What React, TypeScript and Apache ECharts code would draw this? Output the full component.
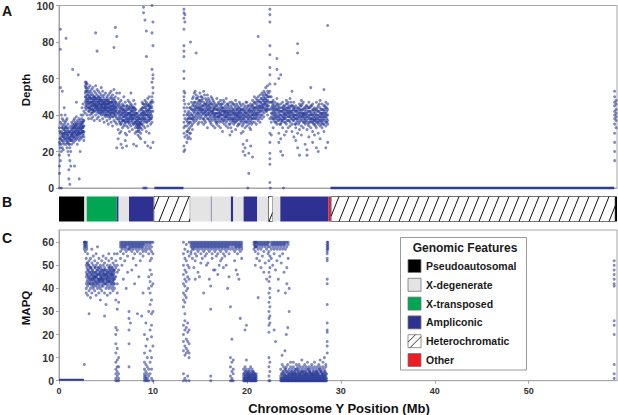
import React, { useEffect, useRef } from "react";
import * as echarts from "echarts";

const X_MAX = 59.4;
const xTicks = [0, 10, 20, 30, 40, 50];
const depthTicks = [0, 20, 40, 60, 80, 100];
const mapqTicks = [0, 10, 20, 30, 40, 50, 60];

const featureNames = ["Pseudoautosomal", "X-degenerate", "X-transposed", "Ampliconic", "Heterochromatic", "Other"];
const featureColors = ["#000000", "#e4e4e4", "#00a651", "#2e3192", "hatch", "#ed1c24"];

// [start Mb, end Mb, feature index]
const featureSegments = [
  [0, 2.7, 0], [2.7, 2.95, 1], [2.95, 6.15, 2], [6.15, 6.35, 3], [6.35, 7.45, 1],
  [7.45, 10.1, 3], [10.1, 13.97, 4], [13.97, 16.17, 1], [16.17, 16.25, 3], [16.25, 18.3, 1],
  [18.3, 18.55, 3], [18.55, 19.65, 1], [19.65, 21.1, 3], [21.1, 22.3, 1], [22.3, 22.75, 4],
  [22.75, 23.56, 1], [23.56, 28.7, 3], [28.7, 28.97, 5], [28.97, 59.2, 4], [59.2, 59.4, 0],
];

// Depth columns: [position Mb, depth values...]
const depthPar = [
  [0.05, 18, 12, 25, 33, 0, 8], [0.15, 22, 30, 36, 27, 15, 55, 87, 76], [0.25, 28, 35, 24, 31, 40, 0, 20],
  [0.35, 30, 26, 38, 33, 22, 53], [0.45, 25, 34, 29, 37, 21, 28], [0.55, 32, 27, 35, 24, 30, 44],
  [0.65, 29, 36, 31, 26, 33, 40], [0.75, 34, 28, 24, 37, 31, 82], [0.85, 27, 33, 30, 38, 25, 22],
  [0.95, 31, 25, 29, 35, 20, 28], [1.05, 24, 30, 18, 10, 5, 27, 33], [1.15, 28, 22, 15, 31, 2, 26],
  [1.25, 30, 26, 34, 20, 28, 12], [1.35, 33, 27, 31, 36, 24, 29], [1.45, 29, 35, 26, 32, 30, 65],
  [1.55, 31, 37, 28, 34, 25, 33], [1.65, 27, 33, 38, 30, 35, 12], [1.75, 32, 29, 36, 26, 34, 31],
  [1.85, 35, 30, 27, 33, 39, 47], [1.95, 28, 34, 31, 37, 29, 24], [2.05, 33, 30, 36, 27, 32, 62],
  [2.15, 31, 35, 29, 38, 26, 5], [2.25, 34, 28, 33, 30, 37, 20], [2.35, 30, 36, 32, 27, 40, 34],
  [2.45, 35, 31, 38, 28, 44, 33], [2.55, 33, 40, 29, 36, 31, 46], [2.65, 31, 37, 34, 28, 42, 26],
  [0.1, 27, 31, 24], [0.3, 29, 33, 26], [0.5, 28, 32, 30], [0.7, 30, 27, 33], [0.9, 29, 32, 26],
  [1.1, 27, 24, 31], [1.3, 29, 32, 26], [1.5, 30, 33, 28], [1.7, 31, 28, 34], [1.9, 32, 29, 35],
  [2.1, 30, 33, 31], [2.3, 32, 35, 30], [2.5, 33, 36, 31], [2.6, 34, 30, 37],
];
const depthXTransposed = [
  [2.8, 52, 47, 56, 44, 58, 50, 41], [2.9, 55, 49, 58, 46, 53, 43, 57], [3.0, 48, 54, 45, 57, 51, 40, 47],
  [3.15, 46, 52, 42, 55, 49, 38, 44], [3.3, 50, 44, 53, 40, 47, 56, 43], [3.45, 45, 49, 41, 52, 38, 47, 54],
  [3.6, 43, 48, 51, 39, 46, 55, 42], [3.75, 47, 42, 50, 45, 37, 53, 49], [3.9, 44, 49, 40, 52, 46, 56, 85],
  [4.05, 48, 43, 51, 38, 45, 54, 75], [4.2, 42, 47, 50, 44, 39, 53, 46], [4.35, 46, 41, 49, 43, 52, 37, 48],
  [4.5, 44, 48, 40, 51, 45, 55, 42], [4.65, 47, 43, 50, 38, 46, 53, 41], [4.8, 42, 46, 49, 44, 36, 51, 47],
  [4.95, 45, 40, 48, 43, 52, 39, 46], [5.1, 43, 47, 41, 50, 45, 37, 49], [5.25, 46, 42, 48, 39, 51, 44, 35],
  [5.4, 41, 45, 49, 43, 38, 52, 47], [5.55, 44, 40, 47, 50, 42, 36, 53], [5.7, 42, 46, 39, 48, 44, 51, 34],
  [5.85, 45, 41, 49, 37, 43, 54, 77], [6.0, 40, 44, 47, 36, 50, 42, 88], [6.15, 43, 38, 46, 52, 35, 41, 83, 22],
  [2.85, 50, 45, 53, 48, 55], [3.08, 47, 51, 44, 49, 53], [3.23, 44, 48, 50, 46, 42], [3.38, 47, 43, 49, 45, 51],
  [3.53, 45, 49, 43, 47, 41], [3.68, 44, 46, 50, 42, 48], [3.83, 46, 43, 48, 45, 50], [3.98, 42, 47, 45, 49, 44],
  [4.13, 45, 49, 43, 47, 41], [4.28, 44, 46, 48, 42, 50], [4.43, 43, 47, 45, 41, 49], [4.58, 46, 42, 44, 48, 45],
  [4.73, 44, 48, 42, 46, 40], [4.88, 43, 45, 47, 41, 44], [5.03, 46, 42, 44, 48, 40], [5.18, 44, 40, 46, 42, 48],
  [5.33, 42, 46, 44, 40, 47], [5.48, 45, 41, 43, 47, 39], [5.63, 43, 47, 41, 45, 49], [5.78, 41, 45, 43, 47, 39],
  [5.93, 44, 40, 46, 42, 48], [6.08, 42, 45, 39, 47, 44],
];
const depthAmpliconic = [
  [6.3, 38, 45, 32, 49, 41, 27], [6.45, 42, 36, 47, 39, 52, 30], [6.6, 35, 44, 40, 31, 48, 24],
  [6.75, 41, 37, 46, 33, 43, 22], [6.9, 39, 45, 34, 42, 37, 50], [7.05, 36, 42, 30, 47, 40, 26],
  [7.2, 40, 34, 45, 38, 29, 23], [7.35, 43, 37, 41, 48, 33, 36], [7.5, 38, 44, 35, 41, 47, 31],
  [7.65, 42, 39, 46, 34, 40, 52], [7.8, 37, 43, 40, 32, 45, 38], [7.95, 41, 35, 44, 39, 48, 24],
  [8.1, 36, 40, 33, 43, 30, 46], [8.25, 34, 38, 31, 36, 41, 23], [8.4, 33, 37, 29, 35, 40, 31],
  [8.55, 35, 31, 38, 28, 34, 42], [8.7, 36, 40, 33, 30, 43, 27], [8.85, 39, 44, 35, 41, 47, 32],
  [9.0, 42, 37, 46, 34, 40, 99, 96, 0], [9.15, 38, 45, 41, 33, 48, 92, 0, 25], [9.3, 43, 36, 40, 47, 31, 86, 72, 0],
  [9.45, 40, 46, 34, 42, 49, 23], [9.6, 37, 43, 39, 45, 30, 50], [9.75, 41, 35, 47, 38, 44, 22],
  [9.9, 44, 39, 50, 36, 48, 100, 85, 65, 58], [10.0, 47, 42, 52, 55, 91, 78, 60, 62, 25],
  [6.38, 40, 44, 37, 46, 42], [6.53, 41, 38, 45, 43, 35], [6.68, 38, 42, 44, 36, 40], [6.83, 43, 39, 41, 45, 37],
  [6.98, 37, 41, 43, 39, 35], [7.13, 42, 38, 40, 44, 36], [7.28, 39, 43, 37, 41, 45], [7.43, 41, 38, 44, 40, 36],
  [7.58, 43, 39, 41, 37, 45], [7.73, 40, 44, 38, 42, 36], [7.88, 42, 38, 40, 44, 35], [8.03, 38, 42, 36, 40, 44],
  [8.18, 37, 41, 35, 39, 43], [8.33, 35, 39, 33, 37, 41], [8.48, 34, 38, 36, 32, 39], [8.63, 36, 33, 38, 35, 40],
  [8.78, 38, 41, 35, 43, 37], [8.93, 40, 44, 38, 42, 46], [9.08, 41, 38, 44, 39, 36], [9.23, 40, 44, 37, 42, 46],
  [9.38, 42, 38, 45, 40, 36], [9.53, 39, 43, 41, 37, 45], [9.68, 42, 38, 44, 40, 46], [9.83, 40, 45, 42, 38, 47],
];
const depthSpike13 = [
  [13.3, 98, 96, 93, 87, 78, 75, 72, 64, 60, 53, 50, 48, 44, 40, 36, 33, 30, 23, 20],
  [13.4, 95, 91, 52, 46, 42, 38, 34, 28, 21],
];
const depthMain = [
  [13.6, 34, 40, 29, 44, 37, 31, 25], [13.8, 38, 32, 42, 35, 46, 28, 40], [14.0, 36, 41, 30, 44, 38, 27, 80],
  [14.2, 40, 35, 45, 38, 49, 32, 43], [14.4, 43, 38, 47, 41, 52, 36, 45], [14.6, 45, 40, 49, 37, 43, 51, 74],
  [14.8, 42, 47, 39, 44, 50, 35, 41], [15.0, 46, 41, 44, 38, 52, 43, 48], [15.2, 43, 48, 40, 45, 36, 50, 42],
  [15.4, 41, 45, 38, 47, 43, 53, 35], [15.6, 44, 39, 46, 42, 49, 36, 41], [15.8, 42, 47, 40, 44, 38, 51, 33],
  [16.0, 45, 41, 43, 37, 48, 40, 46], [16.2, 40, 44, 38, 46, 42, 35, 50], [16.4, 43, 39, 45, 41, 48, 34, 42],
  [16.6, 41, 37, 44, 39, 46, 33, 40], [16.8, 39, 43, 36, 45, 41, 49, 35], [17.0, 42, 38, 40, 44, 34, 47, 39],
  [17.2, 40, 45, 37, 42, 48, 33, 41], [17.4, 38, 42, 44, 36, 40, 46, 31], [17.6, 41, 37, 43, 39, 47, 35, 42],
  [17.8, 39, 44, 40, 36, 42, 49, 34], [18.0, 42, 38, 45, 41, 33, 46, 40], [18.2, 37, 43, 39, 47, 35, 41, 29],
  [18.4, 40, 36, 44, 38, 42, 31, 47], [18.6, 43, 39, 41, 35, 46, 37, 42], [18.8, 38, 42, 36, 44, 40, 48, 32],
  [19.0, 41, 37, 43, 39, 45, 34, 40], [19.2, 39, 44, 38, 41, 35, 47, 42], [19.4, 42, 38, 45, 40, 36, 43, 30],
  [19.6, 40, 35, 43, 38, 46, 31, 24, 20], [19.8, 37, 42, 39, 45, 33, 41, 22, 18], [20.0, 41, 36, 44, 39, 47, 34, 26],
  [20.2, 38, 43, 40, 35, 45, 42, 19, 8], [20.4, 42, 39, 46, 37, 44, 32, 23], [20.6, 40, 45, 38, 43, 36, 48, 41, 17],
  [20.8, 43, 39, 47, 41, 36, 44, 50], [21.0, 41, 46, 38, 44, 49, 40, 35], [21.2, 44, 40, 47, 42, 37, 50, 83],
  [21.4, 42, 47, 45, 39, 51, 44, 36], [21.6, 46, 43, 49, 40, 52, 45, 38], [21.8, 44, 48, 41, 50, 46, 53, 39],
  [22.0, 47, 43, 51, 45, 55, 42, 49], [22.2, 45, 50, 43, 53, 48, 40, 56],
  [22.45, 98, 95, 91, 78, 73, 66, 62, 57, 53, 50, 47, 43, 38, 30, 25, 19, 16, 13, 3],
  [22.6, 44, 39, 47, 41, 36, 50, 29], [22.8, 42, 46, 38, 44, 40, 33, 48], [23.0, 40, 44, 36, 47, 42, 38, 57],
  [23.2, 43, 38, 46, 40, 35, 49, 71, 65], [23.4, 41, 45, 37, 43, 30, 39, 60, 25], [23.6, 38, 42, 35, 46, 40, 27, 62, 20],
  [23.8, 42, 37, 44, 39, 33, 47, 18], [24.0, 40, 45, 38, 43, 36, 41, 29], [24.2, 43, 39, 46, 41, 35, 48, 31],
  [24.4, 41, 37, 44, 39, 47, 33, 42], [24.6, 39, 44, 40, 36, 42, 49, 34], [24.8, 42, 38, 45, 40, 35, 53, 31],
  [25.0, 40, 44, 37, 43, 39, 47, 28], [25.2, 38, 42, 35, 45, 40, 33, 26], [25.4, 41, 37, 44, 39, 79, 74, 30, 22],
  [25.6, 39, 43, 36, 41, 46, 32, 18], [25.8, 42, 38, 45, 40, 34, 48, 29], [26.0, 40, 36, 43, 39, 47, 33, 41],
  [26.2, 38, 42, 37, 44, 35, 40, 24], [26.4, 41, 37, 45, 39, 32, 21, 18], [26.6, 39, 44, 36, 42, 47, 34, 28],
  [26.8, 37, 41, 38, 45, 33, 55, 40], [27.0, 40, 36, 43, 38, 46, 31, 25], [27.2, 38, 42, 35, 40, 44, 29, 37],
  [27.4, 36, 40, 38, 43, 33, 47, 22], [27.6, 39, 35, 42, 37, 45, 30, 20], [27.8, 37, 41, 34, 39, 44, 48, 27],
  [28.0, 40, 36, 43, 38, 33, 46, 41], [28.2, 38, 42, 35, 45, 40, 54, 31], [28.4, 36, 41, 39, 44, 34, 47, 22],
  [28.6, 40, 37, 43, 35, 46, 89, 25],
];
const depthMainFill = [
  [13.7, 36, 31, 41, 27, 38], [13.9, 33, 39, 44, 30, 36], [14.1, 38, 43, 34, 40, 47], [14.3, 42, 46, 39, 50, 37],
  [14.5, 47, 42, 44, 39, 53], [14.7, 44, 49, 41, 46, 38], [14.9, 40, 45, 48, 43, 36], [15.1, 47, 42, 39, 50, 44],
  [15.3, 45, 41, 49, 38, 43], [15.5, 42, 46, 40, 51, 37], [15.7, 46, 43, 48, 40, 45], [15.9, 41, 45, 38, 49, 43],
  [16.1, 44, 39, 47, 42, 36], [16.3, 42, 46, 41, 37, 49], [16.5, 40, 44, 38, 47, 43], [16.7, 43, 38, 45, 41, 36],
  [16.9, 41, 46, 39, 43, 37], [17.1, 39, 43, 41, 46, 36], [17.3, 43, 38, 46, 40, 44], [17.5, 40, 44, 37, 42, 48],
  [17.7, 42, 39, 45, 38, 41], [17.9, 37, 41, 43, 39, 46], [18.1, 40, 44, 38, 42, 35], [18.3, 42, 38, 40, 45, 33],
  [18.5, 38, 41, 43, 37, 46], [18.7, 41, 45, 38, 40, 36], [18.9, 43, 39, 41, 46, 37], [19.1, 38, 42, 40, 44, 35],
  [19.3, 41, 37, 43, 39, 46], [19.5, 39, 43, 37, 41, 34], [19.7, 42, 38, 40, 36, 44], [19.9, 39, 43, 36, 41, 47],
  [20.1, 40, 37, 42, 38, 45], [20.3, 41, 36, 43, 39, 33], [20.5, 38, 42, 40, 45, 35], [20.7, 42, 38, 44, 40, 46],
  [20.9, 40, 44, 42, 38, 47], [21.1, 43, 39, 45, 41, 48], [21.3, 41, 45, 43, 48, 38], [21.5, 44, 40, 47, 42, 49],
  [21.7, 45, 42, 48, 44, 51], [21.9, 46, 43, 49, 47, 52], [22.1, 44, 48, 46, 51, 42], [22.3, 47, 43, 50, 45, 52],
  [22.7, 41, 45, 38, 43, 47], [22.9, 43, 39, 45, 41, 37], [23.1, 41, 45, 39, 43, 36], [23.3, 39, 42, 44, 37, 46],
  [23.5, 42, 38, 40, 44, 35], [23.7, 40, 44, 37, 42, 36], [23.9, 41, 38, 43, 39, 45], [24.1, 42, 38, 44, 40, 36],
  [24.3, 40, 44, 42, 37, 46], [24.5, 43, 39, 41, 45, 37], [24.7, 41, 45, 38, 42, 47], [24.9, 39, 43, 41, 37, 45],
  [25.1, 42, 38, 44, 40, 35], [25.3, 40, 43, 38, 42, 36], [25.5, 38, 42, 40, 44, 35], [25.7, 41, 37, 43, 39, 45],
  [25.9, 39, 43, 41, 37, 46], [26.1, 41, 38, 44, 40, 36], [26.3, 39, 43, 41, 36, 45], [26.5, 42, 38, 40, 44, 35],
  [26.7, 40, 36, 42, 38, 44], [26.9, 38, 42, 40, 36, 45], [27.1, 39, 35, 41, 37, 43], [27.3, 37, 41, 39, 43, 34],
  [27.5, 40, 36, 38, 42, 44], [27.7, 38, 42, 36, 40, 46], [27.9, 39, 35, 41, 37, 43], [28.1, 41, 37, 39, 43, 35],
  [28.3, 39, 43, 37, 41, 45], [28.5, 38, 42, 40, 36, 44],
];
const depthEnd = [
  [59.15, 45, 38, 50, 42, 35, 47, 40, 53, 30, 25, 20, 15],
  [59.3, 43, 48, 37, 41, 46, 39, 33],
];
const depthZeroPoints = [[20.1, 0], [22.5, 0], [23.9, 0]];
const depthZeroRuns = [[10.15, 13.25], [28.9, 59.1]];

// MAPQ columns: [position Mb, MAPQ values...]
const mapqLeft = [
  [2.7, 60, 59, 58, 60, 57, 7], [2.8, 60, 58, 59, 60, 56], [2.95, 60, 59, 57, 58],
  [2.9, 45, 50, 42, 53, 47, 38, 40], [3.05, 48, 44, 51, 41, 46, 55, 37], [3.2, 43, 47, 50, 39, 45, 52, 29],
  [3.35, 46, 42, 49, 44, 53, 40, 36], [3.5, 44, 48, 41, 51, 46, 38, 57], [3.65, 47, 43, 45, 50, 40, 54, 42],
  [3.8, 45, 49, 42, 46, 52, 39, 44], [3.95, 43, 47, 50, 41, 45, 37, 55], [4.1, 46, 42, 48, 44, 51, 40, 58],
  [4.25, 44, 49, 41, 47, 43, 53, 38], [4.4, 47, 43, 45, 50, 40, 46, 35], [4.55, 45, 41, 48, 43, 52, 44, 39],
  [4.7, 43, 47, 44, 50, 41, 46, 54], [4.85, 46, 42, 49, 45, 38, 51, 28], [5.0, 44, 48, 42, 46, 40, 53, 33],
  [5.15, 47, 43, 45, 50, 41, 44, 37], [5.3, 45, 49, 43, 47, 52, 40, 55], [5.45, 43, 46, 41, 48, 44, 50, 38],
  [5.6, 46, 42, 49, 45, 40, 47, 53], [5.75, 44, 48, 43, 46, 51, 41, 39], [5.9, 47, 45, 50, 42, 55, 48, 44, 40],
  [2.98, 46, 49, 43, 51], [3.13, 45, 48, 42, 50], [3.28, 47, 44, 49, 42], [3.43, 45, 47, 43, 49],
  [3.58, 46, 42, 48, 44], [3.73, 44, 47, 45, 41], [3.88, 47, 43, 45, 49], [4.03, 45, 48, 42, 46],
  [4.18, 43, 46, 49, 44], [4.33, 46, 44, 48, 42], [4.48, 44, 47, 45, 49], [4.63, 46, 42, 48, 44],
  [4.78, 45, 48, 43, 47], [4.93, 44, 46, 42, 48], [5.08, 46, 43, 47, 45], [5.23, 44, 48, 46, 42],
  [5.38, 45, 47, 43, 49], [5.53, 46, 44, 48, 42], [5.68, 45, 43, 47, 49], [5.83, 44, 48, 46, 42],
  [6.05, 52, 49, 45, 23, 16, 12, 8, 5, 3, 1, 0, 20, 35], [6.2, 55, 50, 47, 42, 22, 14, 9, 6, 4, 2, 0, 38, 31],
  [6.35, 48, 34, 10, 6, 3, 1, 0],
  [6.55, 60, 59, 58, 56, 53], [6.7, 60, 59, 57, 58, 50], [6.85, 60, 58, 59, 55, 44], [7.0, 60, 59, 57, 58, 52],
  [7.15, 60, 58, 59, 56, 40], [7.3, 60, 59, 57, 54, 47], [7.45, 60, 58, 59, 57, 30, 27, 22, 16, 6],
  [7.6, 60, 59, 57, 58, 25], [7.75, 60, 58, 59, 56, 48], [7.9, 60, 59, 57, 58, 53], [8.05, 60, 58, 59, 55, 42],
  [8.2, 60, 59, 57, 58, 50], [8.35, 60, 58, 59, 56, 29], [8.5, 60, 59, 57, 58, 45], [8.65, 60, 58, 59, 55, 52],
  [8.8, 60, 59, 57, 58, 28], [8.95, 60, 58, 59, 56, 54, 38], [9.1, 60, 59, 57, 8, 5, 3, 2, 1, 0, 12, 20],
  [9.25, 60, 58, 56, 7, 4, 2, 0, 1, 15, 25], [9.4, 60, 59, 57, 6, 3, 1, 0, 10, 18],
  [9.55, 60, 58, 55, 5, 2, 0, 30, 40, 45], [9.7, 60, 59, 57, 52, 48, 43, 38, 33, 22, 13, 8, 3],
  [9.85, 60, 58, 56, 53, 46, 41, 35, 29, 24, 19, 10, 5, 1], [10.0, 60, 55, 42, 30, 15, 0],
];
const mapqMiddle = [
  [13.25, 60, 55, 50, 46, 42, 38, 35, 32, 24, 20, 17, 13, 3, 0], [13.4, 57, 53, 48, 44, 41, 37, 34, 29, 26, 22, 15, 11, 1],
  [13.55, 59, 52, 47, 43, 39, 36, 23, 18, 14, 12, 0], [13.7, 56, 50, 45, 40, 25, 21, 17, 13, 2],
  [13.85, 60, 54, 49, 44, 22, 16, 12, 10, 0],
  [14.05, 60, 59, 58, 56, 55], [14.2, 60, 58, 59, 57, 53], [14.35, 60, 59, 57, 58, 49], [14.5, 60, 58, 59, 55, 44, 52],
  [14.65, 60, 59, 57, 58, 54], [14.8, 60, 58, 59, 56, 47], [14.95, 60, 59, 57, 58, 45], [15.1, 60, 58, 59, 55, 51],
  [15.25, 60, 59, 57, 58, 53], [15.4, 60, 58, 59, 56, 38], [15.55, 60, 59, 57, 58, 54], [15.7, 60, 58, 59, 55, 50],
  [15.85, 60, 59, 57, 58, 51], [16.0, 60, 58, 59, 56, 44], [16.15, 60, 59, 57, 58, 31, 41, 2, 0],
  [16.3, 60, 58, 59, 55, 53], [16.45, 60, 59, 57, 58, 48], [16.6, 60, 58, 59, 56, 48], [16.75, 60, 59, 57, 58, 54],
  [16.9, 60, 58, 59, 55, 46], [17.05, 60, 59, 57, 58, 50], [17.2, 60, 58, 59, 56, 52], [17.35, 60, 59, 57, 58, 53],
  [17.5, 60, 58, 59, 55, 49], [17.65, 60, 59, 57, 58, 54], [17.8, 60, 58, 59, 56, 50], [17.95, 60, 59, 57, 58, 40],
  [18.1, 60, 58, 59, 55, 45], [18.25, 60, 59, 57, 32, 10, 6, 2, 0], [18.4, 60, 58, 59, 18, 8, 4, 1, 0],
  [18.55, 60, 59, 57, 9, 5, 3, 0], [18.7, 60, 58, 59, 56, 52], [18.85, 60, 59, 57, 58, 48],
  [19.0, 60, 58, 59, 55, 46], [19.15, 60, 59, 57, 58, 44], [19.3, 60, 58, 59, 56, 27], [19.45, 60, 59, 57, 58, 53],
  [19.65, 0, 1, 3, 5, 2], [19.8, 1, 0, 4, 2, 6, 22], [19.95, 0, 2, 3, 1, 5, 9, 24], [20.1, 1, 0, 4, 2, 3],
  [20.25, 0, 3, 1, 5, 2], [20.4, 2, 0, 4, 1, 6], [20.55, 0, 1, 3, 2, 5], [20.7, 1, 0, 2, 4, 3],
  [20.85, 0, 2, 1, 3, 60, 59, 58], [21.0, 1, 0, 3, 2, 60, 58],
  [19.72, 1, 3, 0], [19.88, 2, 0, 4], [20.03, 1, 3, 0], [20.18, 2, 4, 1], [20.33, 0, 2, 3], [20.48, 1, 3, 0],
  [20.63, 2, 0, 4], [20.78, 1, 3, 0], [20.93, 0, 2, 1],
  [20.75, 60, 59, 57], [20.9, 60, 58, 56, 50], [21.05, 60, 59, 58, 53], [21.2, 60, 57, 59, 55, 36],
  [21.35, 60, 58, 59, 52], [21.5, 60, 59, 57, 49], [21.65, 60, 58, 59, 54], [21.8, 60, 59, 56, 47],
  [21.95, 60, 58, 59, 51], [22.1, 60, 59, 57, 44], [22.25, 60, 58, 59, 55],
  [22.35, 60, 56, 52, 47, 43, 38, 34, 30, 27, 24, 21, 10, 6, 2, 0], [22.45, 58, 54, 49, 45, 40, 36, 32, 28, 25, 8, 4, 0],
  [22.6, 60, 59, 57, 53], [22.75, 60, 58, 59, 50], [22.9, 60, 59, 57, 55, 22], [23.05, 60, 58, 59, 48, 17],
  [23.2, 60, 59, 57, 52], [23.35, 60, 58, 59, 44, 39], [23.5, 60, 59, 57, 54], [23.65, 60, 58, 59, 51],
  [23.8, 60, 59, 57, 55], [23.95, 60, 58, 59, 47], [24.1, 60, 59, 57, 38], [24.25, 60, 58, 49, 42], [24.4, 60, 59, 53],
];
const mapqRight = [
  [23.6, 0, 2, 5, 1], [23.75, 1, 0, 3, 7, 11], [23.9, 0, 2, 4, 1, 6], [24.05, 1, 3, 0, 5, 2, 13],
  [24.2, 0, 2, 6, 1, 4, 20], [24.35, 2, 0, 3, 7, 1, 23], [24.5, 0, 4, 1, 5, 2, 30, 40], [24.65, 1, 3, 0, 6, 2, 8],
  [24.8, 0, 2, 5, 1, 4, 3], [24.95, 2, 0, 3, 6, 1, 8], [25.1, 0, 4, 1, 5, 2, 3], [25.25, 1, 3, 0, 7, 2, 5],
  [25.4, 0, 2, 4, 1, 6, 3], [25.55, 2, 0, 5, 3, 1, 7], [25.7, 0, 3, 1, 6, 4, 2], [25.85, 1, 0, 4, 2, 5, 9],
  [26.0, 0, 2, 6, 1, 3, 4], [26.15, 2, 0, 3, 5, 1, 7], [26.3, 0, 4, 1, 2, 6, 3], [26.45, 1, 3, 0, 5, 2, 8],
  [26.6, 0, 2, 4, 1, 6, 3], [26.75, 2, 0, 5, 3, 1, 4], [26.9, 0, 3, 1, 6, 2, 7], [27.05, 1, 0, 4, 2, 5, 3],
  [27.2, 0, 2, 6, 1, 3, 8], [27.35, 2, 0, 3, 5, 1, 4], [27.5, 0, 4, 1, 2, 6, 3], [27.65, 1, 3, 0, 5, 2, 7],
  [27.8, 0, 2, 4, 1, 6, 9], [27.95, 2, 0, 5, 3, 1, 4], [28.1, 0, 3, 1, 6, 2, 8], [28.25, 1, 0, 4, 2, 5, 10],
  [28.4, 0, 2, 6, 1, 3, 7],
  [23.68, 1, 3, 0], [23.83, 2, 0, 4], [23.98, 1, 3, 0], [24.13, 0, 2, 5], [24.28, 1, 4, 0], [24.43, 2, 0, 3],
  [24.58, 1, 3, 0], [24.73, 0, 2, 4], [24.88, 1, 3, 0], [25.03, 2, 0, 4], [25.18, 1, 3, 0], [25.33, 0, 2, 5],
  [25.48, 1, 4, 0], [25.63, 2, 0, 3], [25.78, 1, 3, 0], [25.93, 0, 2, 4], [26.08, 1, 3, 0], [26.23, 2, 0, 4],
  [26.38, 1, 3, 0], [26.53, 0, 2, 5], [26.68, 1, 4, 0], [26.83, 2, 0, 3], [26.98, 1, 3, 0], [27.13, 0, 2, 4],
  [27.28, 1, 3, 0], [27.43, 2, 0, 4], [27.58, 1, 3, 0], [27.73, 0, 2, 5], [27.88, 1, 4, 0], [28.03, 2, 0, 3],
  [28.18, 1, 3, 0], [28.33, 0, 2, 4], [28.48, 1, 3, 0],
  [28.55, 60, 59, 58, 57, 56, 55, 53, 52, 44, 42, 33, 25, 22, 21, 17, 15, 12],
  [28.62, 60, 59, 58, 57],
  [59.1, 52, 50, 48, 46, 44, 42, 41, 26, 24, 20, 7, 3, 1],
];
const mapqZeroRuns = [[0.0, 2.65]];

const FONT = "Liberation Sans, Arial, sans-serif";
const DOT = "rgba(36, 54, 150, 0.72)";

function toPoints(columns: number[][]) {
  const pts: number[][] = [];
  columns.forEach((col) => {
    for (let i = 1; i < col.length; i++) pts.push([col[0], col[i]]);
  });
  return pts;
}

function hatchLines(x: number, y: number, w: number, h: number, phase: number) {
  const out: any[] = [];
  const step = 10;
  const d = 10;
  let a = phase + Math.floor((x - d - phase) / step) * step;
  for (; a < x + w; a += step) {
    const t0 = Math.max(0, (x - a) / d);
    const t1 = Math.min(1, (x + w - a) / d);
    if (t1 > t0) {
      out.push({
        type: "line",
        shape: { x1: a + d * t0, y1: y + h - h * t0, x2: a + d * t1, y2: y + h - h * t1 },
        style: { stroke: "#111", lineWidth: 1 },
      });
    }
  }
  return out;
}

export default function App() {
  const ref = useRef<HTMLDivElement>(null);
  useEffect(() => {
    document.body.style.margin = "0";
    const chart = echarts.init(ref.current!, null, { renderer: "svg" });

    const axisGray = "#a6a6a6";
    const labelStyle = { color: "#333", fontFamily: FONT, fontWeight: "bold" as const };

    const depthPoints = [
      ...toPoints(depthPar), ...toPoints(depthXTransposed), ...toPoints(depthAmpliconic),
      ...toPoints(depthSpike13), ...toPoints(depthMain), ...toPoints(depthMainFill), ...toPoints(depthEnd), ...depthZeroPoints,
    ];
    const mapqPoints = [...toPoints(mapqLeft), ...toPoints(mapqMiddle), ...toPoints(mapqRight)];

    const legendTop = 237.5;
    const rowY = (i: number) => 266 + i * 18.8;
    const legendGraphics: any[] = [
      { type: "rect", shape: { x: 400.5, y: legendTop, width: 126, height: 132.5 }, style: { fill: "#fff", stroke: "#999", lineWidth: 1 }, z: 100 },
      { type: "text", x: 465, y: 248, z: 101, style: { text: "Genomic Features", font: `bold 12px ${FONT}`, fill: "#1a1a1a", textAlign: "center", textVerticalAlign: "middle" } },
    ];
    featureNames.forEach((name, i) => {
      const cy = rowY(i);
      const c = featureColors[i];
      legendGraphics.push({
        type: "rect", z: 101,
        shape: { x: 408, y: cy - 6.5, width: 13, height: 13 },
        style: { fill: c === "hatch" ? "#fff" : c, stroke: "#777", lineWidth: 0.8 },
      });
      if (c === "hatch") {
        legendGraphics.push({ type: "line", z: 102, shape: { x1: 410, y1: cy + 6.5, x2: 421, y2: cy - 4.5 }, style: { stroke: "#222", lineWidth: 0.9 } });
        legendGraphics.push({ type: "line", z: 102, shape: { x1: 408, y1: cy + 1, x2: 415.5, y2: cy - 6.5 }, style: { stroke: "#222", lineWidth: 0.9 } });
      }
      legendGraphics.push({
        type: "text", x: 426, y: cy, z: 101,
        style: { text: name, font: `bold 10.5px ${FONT}`, fill: "#1a1a1a", textVerticalAlign: "middle" },
      });
    });

    const titleGraphics: any[] = [
      { type: "text", x: 2, y: 11, style: { text: "A", font: `bold 14px ${FONT}`, fill: "#111", textVerticalAlign: "middle" } },
      { type: "text", x: 2, y: 202, style: { text: "B", font: `bold 14px ${FONT}`, fill: "#111", textVerticalAlign: "middle" } },
      { type: "text", x: 2, y: 238, style: { text: "C", font: `bold 14px ${FONT}`, fill: "#111", textVerticalAlign: "middle" } },
      { type: "text", x: 25.5, y: 90, rotation: Math.PI / 2, style: { text: "Depth", font: `bold 11.5px ${FONT}`, fill: "#111", textAlign: "center", textVerticalAlign: "middle" } },
      { type: "text", x: 25.5, y: 308, rotation: Math.PI / 2, style: { text: "MAPQ", font: `bold 11.5px ${FONT}`, fill: "#111", textAlign: "center", textVerticalAlign: "middle" } },
      { type: "text", x: 339, y: 408, style: { text: "Chromosome Y Position (Mb)", font: `bold 13px ${FONT}`, fill: "#111", textAlign: "center", textVerticalAlign: "middle" } },
    ];

    const gridLeft = 59;
    const gridWidth = 558;

    const option: any = {
      animation: false,
      backgroundColor: "#fff",
      grid: [
        { left: gridLeft, top: 4, width: gridWidth, height: 184, show: true, borderColor: axisGray, borderWidth: 1, backgroundColor: "transparent" },
        { left: gridLeft, top: 196.5, width: gridWidth, height: 25 },
        { left: gridLeft, top: 230, width: gridWidth, height: 150.7, show: true, borderColor: axisGray, borderWidth: 1, backgroundColor: "transparent" },
      ],
      xAxis: [
        {
          type: "value", gridIndex: 0, min: 0, max: X_MAX, interval: 10,
          axisLine: { lineStyle: { color: axisGray } }, axisTick: { show: false }, axisLabel: { show: false }, splitLine: { show: false },
        },
        { type: "value", gridIndex: 1, min: 0, max: X_MAX, show: false },
        {
          type: "value", gridIndex: 2, min: 0, max: X_MAX, interval: 10,
          axisLine: { lineStyle: { color: axisGray } },
          axisTick: { show: true, length: 3, customValues: xTicks, lineStyle: { color: axisGray } },
          axisLabel: { ...labelStyle, fontSize: 9, margin: 6, customValues: xTicks,
            formatter: (v: number) => (xTicks.includes(v) ? String(v) : "") },
          splitLine: { show: false },
        },
      ],
      yAxis: [
        {
          type: "value", gridIndex: 0, min: 0, max: 100, interval: 20,
          axisLine: { show: true, lineStyle: { color: axisGray } },
          axisTick: { show: true, length: 3, lineStyle: { color: axisGray } },
          axisLabel: { ...labelStyle, fontSize: 10.5, margin: 5, formatter: (v: number) => (depthTicks.includes(v) ? String(v) : "") },
          splitLine: { show: false },
        },
        { type: "value", gridIndex: 1, min: 0, max: 1, show: false },
        {
          type: "value", gridIndex: 2, min: 0, max: 65.3, interval: 10,
          axisLine: { show: true, lineStyle: { color: axisGray } },
          axisTick: { show: true, length: 3, customValues: mapqTicks, lineStyle: { color: axisGray } },
          axisLabel: { ...labelStyle, fontSize: 10.5, margin: 5, customValues: mapqTicks,
            formatter: (v: number) => (mapqTicks.includes(v) ? String(v) : "") },
          splitLine: { show: false },
        },
      ],
      graphic: [...titleGraphics, ...legendGraphics],
      series: [
        ...depthZeroRuns.map((run) => ({
          type: "line", xAxisIndex: 0, yAxisIndex: 0, data: [[run[0], 0], [run[1], 0]],
          symbol: "none", lineStyle: { color: "#2e3d96", width: 2.5 }, clip: false, z: 3,
        })),
        {
          type: "scatter", xAxisIndex: 0, yAxisIndex: 0, data: depthPoints, symbolSize: 3,
          itemStyle: { color: DOT }, clip: false, z: 4,
        },
        {
          type: "custom", xAxisIndex: 1, yAxisIndex: 1, data: featureSegments,
          clip: false,
          renderItem: (params: any, api: any) => {
            const s = api.value(0), e = api.value(1), t = api.value(2);
            const p0 = api.coord([s, 1]);
            const p1 = api.coord([e, 0]);
            const x = p0[0], y = p0[1], w = p1[0] - p0[0], h = p1[1] - p0[1];
            if (featureColors[t] === "hatch") {
              return {
                type: "group",
                children: [
                  { type: "rect", shape: { x, y, width: w, height: h }, style: { fill: "#fff", stroke: "#777", lineWidth: 1 } },
                  ...hatchLines(x, y, w, h, gridLeft),
                ],
              };
            }
            return { type: "rect", shape: { x, y, width: w, height: h }, style: { fill: featureColors[t] } };
          },
        },
        ...mapqZeroRuns.map((run) => ({
          type: "line", xAxisIndex: 2, yAxisIndex: 2, data: [[run[0], 0.4], [run[1], 0.4]],
          symbol: "none", lineStyle: { color: "#2e3d96", width: 2 }, clip: false, z: 3,
        })),
        {
          type: "scatter", xAxisIndex: 2, yAxisIndex: 2, data: mapqPoints, symbolSize: 3,
          itemStyle: { color: DOT }, clip: false, z: 4,
        },
      ],
    };
    chart.setOption(option);
    return () => chart.dispose();
  }, []);
  return <div ref={ref} style={{ width: 618, height: 415 }} />;
}
